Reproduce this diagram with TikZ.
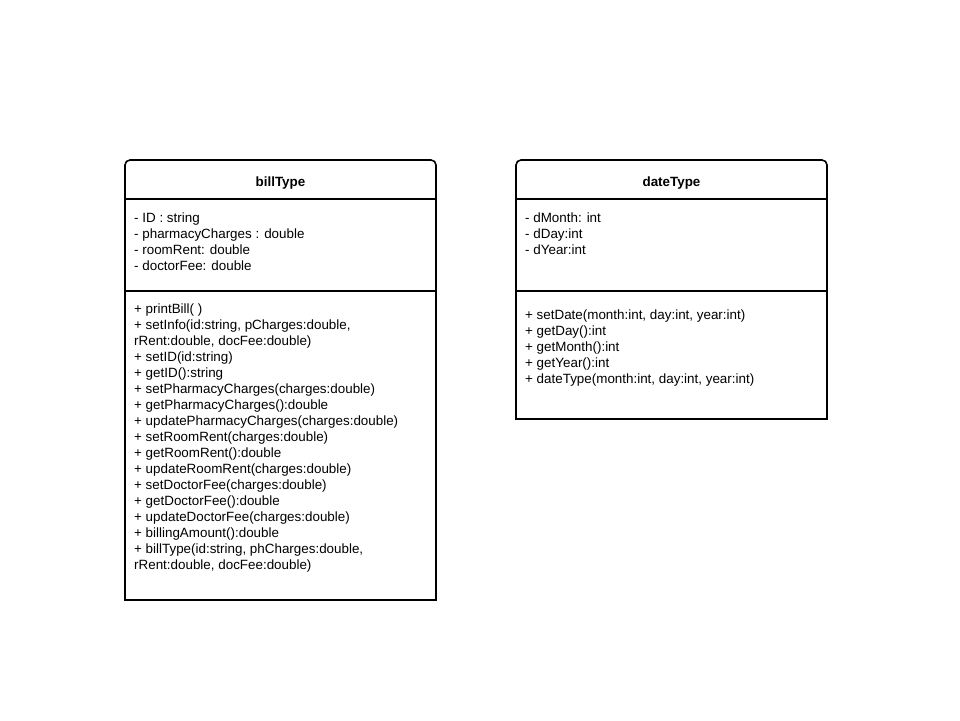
\documentclass[tikz,border=0pt]{standalone}
\usepackage{fontspec}
\setmainfont{Liberation Sans}
\begin{document}
\begin{tikzpicture}[x=1pt,y=-1pt,
  boxline/.style={line width=1.6pt, line join=miter},
  title/.style={font=\fontsize{13.4}{16}\selectfont\bfseries, inner sep=0pt},
  members/.style={font=\fontsize{13.4}{16}\selectfont, align=left, anchor=north west, inner sep=0pt}]
\useasboundingbox[fill=white] (0,0) rectangle (960,720);
% billType box
\draw[boxline] (125,600) -- (125,165) arc(180:270:5) -- (431,160) arc(270:360:5) -- (436,600) -- cycle;
\draw[boxline] (125,199) -- (436,199);
\draw[boxline] (125,291) -- (436,291);
\node[title] (billT) at (280.5,183) {billType};
\node[members] (billA) at (134,212.5) {- ID : string\\- pharmacyCharges : double\\- roomRent: double\\- doctorFee: double};
\node[members] (billM) at (134,303.5) {+ printBill( )\\+ setInfo(id:string, pCharges:double,\\rRent:double, docFee:double)\\+ setID(id:string)\\+ getID():string\\+ setPharmacyCharges(charges:double)\\+ getPharmacyCharges():double\\+ updatePharmacyCharges(charges:double)\\+ setRoomRent(charges:double)\\+ getRoomRent():double\\+ updateRoomRent(charges:double)\\+ setDoctorFee(charges:double)\\+ getDoctorFee():double\\+ updateDoctorFee(charges:double)\\+ billingAmount():double\\+ billType(id:string, phCharges:double,\\rRent:double, docFee:double)};
% dateType box
\draw[boxline] (516,419) -- (516,165) arc(180:270:5) -- (822,160) arc(270:360:5) -- (827,419) -- cycle;
\draw[boxline] (516,199) -- (827,199);
\draw[boxline] (516,291) -- (827,291);
\node[title] (dateT) at (671.5,183) {dateType};
\node[members] (dateA) at (525,212.5) {- dMonth: int\\- dDay:int\\- dYear:int};
\node[members] (dateM) at (525,309.5) {+ setDate(month:int, day:int, year:int)\\+ getDay():int\\+ getMonth():int\\+ getYear():int\\+ dateType(month:int, day:int, year:int)};
\end{tikzpicture}
\end{document}
